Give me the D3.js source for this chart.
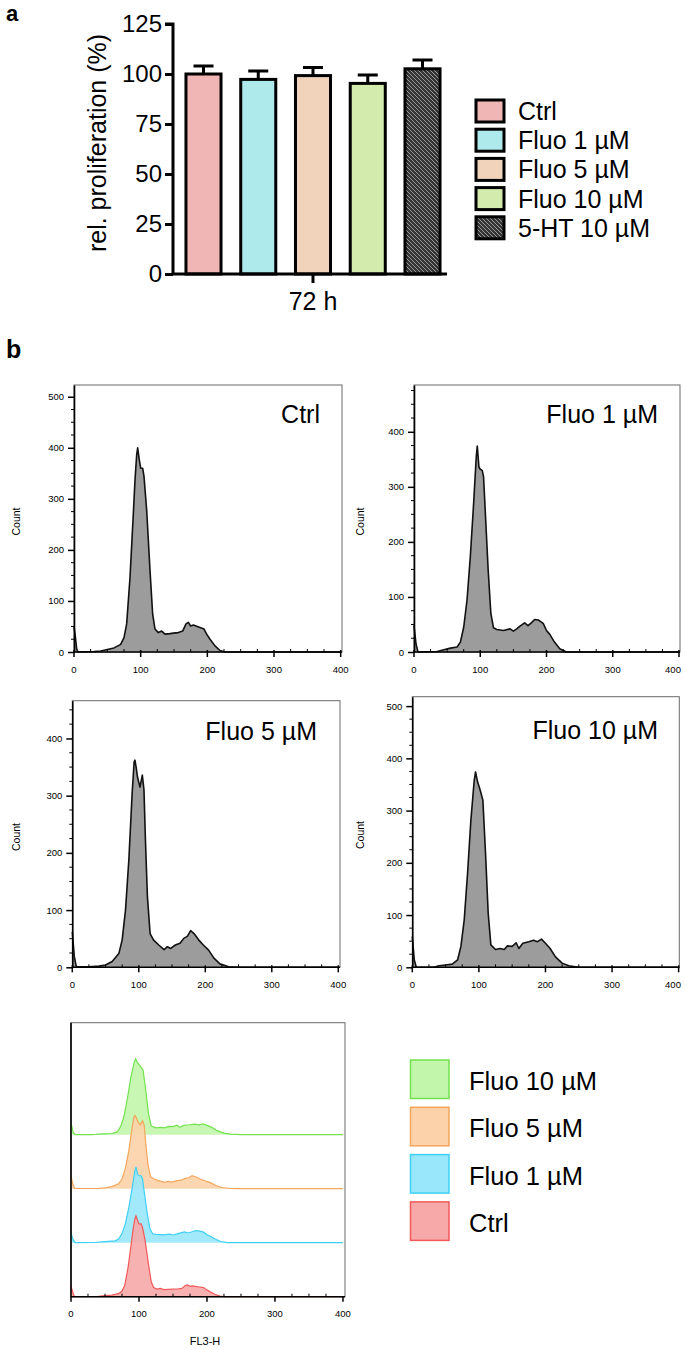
<!DOCTYPE html>
<html><head><meta charset="utf-8">
<script src="https://cdn.jsdelivr.net/npm/d3@7"></script>
<style>
body{margin:0;background:#fff}
svg{display:block}
text{font-family:"Liberation Sans",Arial,Helvetica,sans-serif;fill:#000}
</style>
</head><body>
<svg id="fig" width="685" height="1349"></svg>
<script>
// ---------- DATA ----------
const barCategories = ["Ctrl", "Fluo 1 µM", "Fluo 5 µM", "Fluo 10 µM", "5-HT 10 µM"];
const barMeans = [100, 97.3, 99.2, 95.3, 102.6];
const barErrors = [4.0, 4.2, 4.1, 4.2, 4.4];
const barTicks = [0, 25, 50, 75, 100, 125];
const barGroupLabel = "72 h";
const barColors = ["#f0b5b5", "#aeeaec", "#f0d3ba", "#d4ebae", "url(#hatch)"];

// flow cytometry histograms: [FL3-H, Count]
const histCtrl = [[0,50],[2,30],[4,6],[6,0],[30,1],[40,2],[50,5],[60,8],[70,15],[75,28],[79,55],[84,146],[89,271],[91.5,337],[94,386],[95.5,400],[98,376],[100,360],[103,360],[105,344],[109,278],[114,160],[118,74],[121.5,45],[126.5,38],[131.5,41],[136.5,35],[144,36],[149,37],[156.5,38],[163,41],[168,55],[171.5,58],[175,51],[179,53],[183,51],[189,48],[195,45],[199,35],[204,25],[211.5,12],[219,3],[226.5,0],[400,0]];
const histFluo1 = [[0,48],[3,15],[6,0],[35,1],[45,4],[55,7],[65,9],[70,18],[75,45],[80,94],[85,173],[90,270],[94,355],[95.5,374],[98,336],[100,332],[103,330],[105,318],[108,245],[112,148],[116,70],[120,44],[125,41],[135,39],[145,42],[150,38],[155,42],[160,47],[167,53],[172,48],[177,53],[182,59],[188,58],[195,52],[200,39],[205,32],[212,18],[220,6],[230,0],[400,0]];
const histFluo5 = [[0,62],[3,19],[6,1],[25,1],[40,2],[50,4],[60,10],[70,24],[75,48],[80,100],[85,187],[90,304],[93,359],[94.2,362],[96,350],[98,333],[101.8,315],[105.3,336],[107.8,310],[110,222],[113,123],[117,59],[122,48],[130,39],[138,31],[143,36],[148,33],[155,39],[162,42],[168,51],[173,54],[178,64],[183,59],[190,48],[197,39],[205,30],[213,16],[222,6],[235,1],[248,0],[400,0]];
const histFluo10 = [[0,59],[3,14],[6,0],[30,0],[35,1],[40,3],[50,4.5],[60,6],[68,14],[73,40],[78,91],[83,180],[88,282],[93,358],[95,374],[98,355],[102,339],[106,320],[110,218],[114,103],[118,43],[125,34],[132,36],[138,34],[143,41],[150,40],[156,47],[160,36],[166,46],[175,49],[182,52],[188,49],[194,54],[200,46],[207,36],[215,20],[225,8],[235,3],[250,0],[400,0]];

const histTitles = ["Ctrl", "Fluo 1 µM", "Fluo 5 µM", "Fluo 10 µM"];
const histYMax = [523, 485, 466, 518];
const histYMajor = [[0,100,200,300,400,500],[0,100,200,300,400],[0,100,200,300,400],[0,100,200,300,400,500]];
const histXTicks = [0, 100, 200, 300, 400];

const overlayLabels = ["Fluo 10 µM", "Fluo 5 µM", "Fluo 1 µM", "Ctrl"];
const overlayStroke = ["#72e24f", "#f5a65c", "#3fd0f5", "#f25a5a"];
const overlayFill = ["#c2f6ab", "#fbd2a9", "#98e7fb", "#f7a9a9"];

// ---------- DRAW ----------
const W = 685;
const svg = d3.select("#fig");
const defs = svg.append("defs");
const pat = defs.append("pattern").attr("id","hatch").attr("patternUnits","userSpaceOnUse")
  .attr("width",4).attr("height",4);
pat.append("rect").attr("width",4).attr("height",4).attr("fill","#353535");
pat.append("path").attr("d","M-1,-1L5,5M-1,3L1,5M3,-1L5,1").attr("stroke","#9a9a9a").attr("stroke-width",1);

// panel labels
svg.append("text").attr("x",6).attr("y",21).attr("font-size",22).attr("font-weight","bold").text("a");
svg.append("text").attr("x",6).attr("y",358).attr("font-size",25).attr("font-weight","bold").text("b");

// ---- bar chart ----
const bx = d3.scaleBand().domain(barCategories).range([173, 453]).paddingInner(0.36).paddingOuter(0.237);
const by = d3.scaleLinear().domain([0,125]).range([274, 24]);
const gBar = svg.append("g");

gBar.selectAll("rect.bar").data(barCategories).join("rect").attr("class","bar")
  .attr("x", d => bx(d)).attr("width", bx.bandwidth())
  .attr("y", (d,i) => by(barMeans[i])).attr("height", (d,i) => by(0) - by(barMeans[i]))
  .attr("fill", (d,i) => barColors[i]).attr("stroke","#000").attr("stroke-width",3);

const capW = 20;
gBar.selectAll("path.err").data(barCategories).join("path").attr("class","err")
  .attr("d", (d,i) => {
    const cx = bx(d) + bx.bandwidth()/2, y0 = by(barMeans[i]), y1 = by(barMeans[i] + barErrors[i]);
    return `M${cx},${y0}V${y1}M${cx-capW/2},${y1}H${cx+capW/2}`;
  }).attr("stroke","#000").attr("stroke-width",3).attr("fill","none");

const yAxisG = gBar.append("g").attr("transform","translate(173,0)")
  .call(d3.axisLeft(by).tickValues(barTicks).tickSize(8).tickPadding(3));
yAxisG.select(".domain").attr("stroke-width",3).attr("d",`M-8,${by(125)}H0V${by(0)}`);
yAxisG.selectAll(".tick line").attr("stroke-width",3);
yAxisG.selectAll(".tick text").attr("font-size",24).attr("font-family","Liberation Sans, Arial, sans-serif").attr("fill","#000");

// x axis
const xEnd = bx(barCategories[4]) + bx.bandwidth() + 7;
gBar.append("path").attr("d",`M${173},${by(0)}H${xEnd}`).attr("stroke","#000").attr("stroke-width",3);
const groupMid = (bx(barCategories[0]) + bx(barCategories[4]) + bx.bandwidth())/2;
gBar.append("path").attr("d",`M${groupMid},${by(0)}V${by(0)+9}`).attr("stroke","#000").attr("stroke-width",3);
gBar.append("text").attr("x",groupMid).attr("y",by(0)+36).attr("text-anchor","middle").attr("font-size",25).text(barGroupLabel);

gBar.append("text").attr("transform",`translate(106,143) rotate(-90)`).attr("text-anchor","middle")
  .attr("font-size",25).text("rel. proliferation (%)");

// legend
const lg = gBar.append("g");
barCategories.forEach((c,i) => {
  const yc = 111 + i*29.2;
  lg.append("rect").attr("x",476).attr("y",yc-11).attr("width",28).attr("height",22)
    .attr("fill",barColors[i]).attr("stroke","#000").attr("stroke-width",3);
  lg.append("text").attr("x",518).attr("y",yc).attr("dy","0.36em").attr("font-size",25).text(c);
});

// ---- histogram panels ----
const panels = [
  {data: histCtrl, left:74, right:342, top:385, bottom:652, xmax:402, titleX:320, titleY:423, countX:20},
  {data: histFluo1, left:414, right:680, top:385, bottom:652, xmax:401.5, titleX:658, titleY:423, countX:364},
  {data: histFluo5, left:72.3, right:340, top:700.7, bottom:967.3, xmax:402.6, titleX:317, titleY:740, countX:20},
  {data: histFluo10, left:412.3, right:679.3, top:696.7, bottom:967.3, xmax:401, titleX:658, titleY:739, countX:364}
];

function xAxisTicks(g, x, y0, majorDown, majorUp, minorUp){
  const minors = d3.range(0, 401, 25).filter(v => v % 100 !== 0);
  g.selectAll("path.minx").data(minors).join("path").attr("class","minx")
    .attr("d", v => `M${x(v)},${y0}V${y0-minorUp}`).attr("stroke","#000").attr("stroke-width",1);
  g.selectAll("path.majx").data(histXTicks).join("path").attr("class","majx")
    .attr("d", v => `M${x(v)},${y0-majorUp}V${y0+majorDown}`).attr("stroke","#000").attr("stroke-width",1.5);
}
function xTickLabels(g, x, y0){
  g.selectAll("text.xl").data(histXTicks).join("text").attr("class","xl")
    .attr("x", v => Math.min(x(v), W - 12)).attr("y", y0).attr("text-anchor","middle")
    .attr("font-size",9.5).attr("fill","#222").text(v => v);
}

panels.forEach((p,k) => {
  const g = svg.append("g");
  const x = d3.scaleLinear().domain([0,p.xmax]).range([p.left,p.right]);
  const y = d3.scaleLinear().domain([0,histYMax[k]]).range([p.bottom,p.top]);
  g.append("rect").attr("x",p.left).attr("y",p.top).attr("width",p.right-p.left).attr("height",p.bottom-p.top)
    .attr("fill","none").attr("stroke","#6a6a6a").attr("stroke-width",1);
  const area = d3.area().x(d=>x(d[0])).y0(y(0)).y1(d=>y(d[1])).curve(d3.curveLinear);
  const line = d3.line().x(d=>x(d[0])).y(d=>y(d[1])).curve(d3.curveLinear);
  g.append("path").datum(p.data).attr("d",area).attr("fill","#9c9c9c");
  g.append("path").datum(p.data).attr("d",line).attr("fill","none").attr("stroke","#111").attr("stroke-width",1.6).attr("stroke-linejoin","round");
  const minorsY = d3.range(0, histYMax[k], 25).filter(v => v % 100 !== 0);
  g.selectAll("path.miny").data(minorsY).join("path").attr("class","miny")
    .attr("d", v => `M${p.left-3},${y(v)}H${p.left}`).attr("stroke","#000").attr("stroke-width",1);
  const ya = g.append("g").attr("transform",`translate(${p.left},0)`)
    .call(d3.axisLeft(y).tickValues(histYMajor[k]).tickSize(6).tickPadding(4).tickSizeOuter(0));
  ya.select(".domain").attr("stroke-width",1.6);
  ya.selectAll(".tick line").attr("stroke-width",1.5);
  ya.selectAll(".tick text").attr("font-size",9.5).attr("fill","#222").attr("font-family","Liberation Sans, Arial, sans-serif");
  g.append("path").attr("d",`M${p.left},${p.bottom}H${p.right}`).attr("stroke","#000").attr("stroke-width",1.6);
  xAxisTicks(g, x, p.bottom, 5, 2, 3);
  xTickLabels(g, x, p.bottom+21);
  g.append("text").attr("transform",`translate(${p.countX},${(p.top+p.bottom)/2+3}) rotate(-90)`)
    .attr("text-anchor","middle").attr("font-size",10.5).attr("fill","#222").text("Count");
  g.append("text").attr("x",p.titleX).attr("y",p.titleY).attr("text-anchor","end").attr("font-size",25).text(histTitles[k]);
});

// ---- overlay panel ----
(function(){
  const left=71, right=345, top=1022.7, bottom=1296.7;
  const g = svg.append("g");
  const x = d3.scaleLinear().domain([0,403]).range([left,right]);
  const h = d3.scaleLinear().domain([0,400]).range([0,81]);
  const trackStep = 54;
  const tracks = [histFluo10, histFluo5, histFluo1, histCtrl];
  g.append("rect").attr("x",left).attr("y",top).attr("width",right-left).attr("height",bottom-top)
    .attr("fill","none").attr("stroke","#6a6a6a").attr("stroke-width",1);
  tracks.forEach((data,i) => {
    const base = bottom - (3-i)*trackStep;
    const area = d3.area().x(d=>x(d[0])).y0(base).y1(d=>base-h(d[1])).curve(d3.curveLinear);
    const line = d3.line().x(d=>x(d[0])).y(d=>base-h(d[1])).curve(d3.curveLinear);
    g.append("path").datum(data).attr("d",area).attr("fill",overlayFill[i]).attr("fill-opacity",0.9);
    g.append("path").datum(data).attr("d",line).attr("fill","none").attr("stroke",overlayStroke[i]).attr("stroke-width",1.2);
  });
  g.append("path").attr("d",`M${left},${top}V${bottom}H${right}`).attr("fill","none").attr("stroke","#000").attr("stroke-width",1.6);
  xAxisTicks(g, x, bottom, 5, 0, 3);
  xTickLabels(g, x, bottom+20);
  g.append("text").attr("x",205).attr("y",1345).attr("text-anchor","middle").attr("font-size",11).attr("fill","#222").text("FL3-H");
  overlayLabels.forEach((c,i) => {
    const y0 = 1060 + i*47.3;
    g.append("rect").attr("x",410.5).attr("y",y0).attr("width",38.5).attr("height",38.5)
      .attr("fill",overlayFill[i]).attr("stroke",overlayStroke[i]).attr("stroke-width",1.5);
    g.append("text").attr("x",469).attr("y",y0+21).attr("dy","0.36em").attr("font-size",25.5).text(c);
  });
})();
</script>
</body></html>
